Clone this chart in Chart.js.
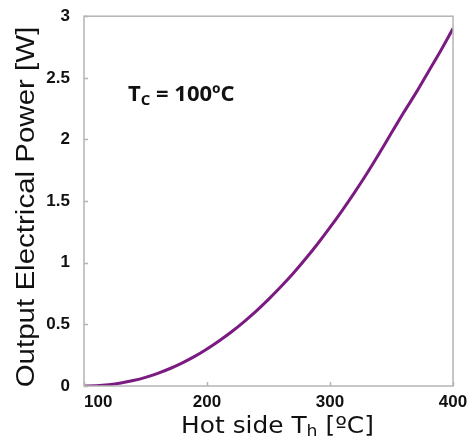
<!DOCTYPE html>
<html>
<head>
<meta charset="utf-8">
<script src="https://cdn.jsdelivr.net/npm/chart.js@4"></script>
<style>
  html, body { margin: 0; padding: 0; background: #fff; }
  #wrap { width: 471px; height: 444px; }
</style>
</head>
<body>
<div id="wrap"><canvas id="power-chart"></canvas></div>
<script>
// hot side temperature [ºC]
const hotTemps = [100, 110, 120, 130, 140, 150, 160, 170, 180, 190,
                  200, 210, 220, 230, 240, 250, 260, 270, 280, 290,
                  300, 310, 320, 330, 340, 350, 360, 370, 380, 390, 400]
// output electrical power [W]
const powerOut = [0, 0.002, 0.010, 0.024, 0.044, 0.070, 0.103, 0.142, 0.188, 0.240,
                  0.300, 0.367, 0.440, 0.521, 0.608, 0.703, 0.805, 0.913, 1.030, 1.154,
                  1.286, 1.425, 1.571, 1.724, 1.886, 2.054, 2.220, 2.380, 2.550, 2.720, 2.900]
const xTicks = [100, 200, 300, 400]
const yTicks = [0, 0.5, 1, 1.5, 2, 2.5, 3]

const points = hotTemps.map((t, i) => ({x: t, y: powerOut[i]}))
const tickFont = 'bold 17px "Liberation Sans", Arial, sans-serif'

// frame, inner tick marks, x labels, titles and the Tc note
const decorations = {
    id: 'decorations',
    afterDraw(chart) {
        const ctx = chart.ctx
        const a = chart.chartArea
        const xs = chart.scales.x
        const ys = chart.scales.y
        ctx.save()
        ctx.strokeStyle = '#b4b4b4'
        ctx.lineWidth = 1.5
        ctx.strokeRect(a.left, a.top, a.right - a.left, a.bottom - a.top)
        ctx.beginPath()
        xTicks.forEach(v => {
            const px = Math.round(xs.getPixelForValue(v)) + 0.5
            ctx.moveTo(px, a.bottom)
            ctx.lineTo(px, a.bottom - 4)
        })
        yTicks.forEach(v => {
            const py = Math.round(ys.getPixelForValue(v)) + 0.5
            ctx.moveTo(a.left, py)
            ctx.lineTo(a.left + 4, py)
        })
        ctx.stroke()

        ctx.fillStyle = '#111'
        ctx.textBaseline = 'middle'
        // x tick labels, first one kept inside the frame
        ctx.font = tickFont
        xTicks.forEach((v, i) => {
            ctx.textAlign = i === 0 ? 'left' : 'center'
            ctx.fillText(String(v), xs.getPixelForValue(v), a.bottom + 16)
        })

        // y title
        ctx.save()
        ctx.translate(27, 207)
        ctx.rotate(-Math.PI / 2)
        ctx.scale(1.18, 1)
        ctx.textAlign = 'center'
        ctx.font = '25px "Liberation Sans", Arial, sans-serif'
        ctx.fillText('Output Electrical Power [W]', 0, 0)
        ctx.restore()

        // x title with subscript h
        ctx.save()
        ctx.textAlign = 'left'
        const big = '23px "DejaVu Sans", sans-serif'
        const small = '16px "DejaVu Sans", sans-serif'
        const p1 = 'Hot side T', p2 = 'h', p3 = ' [ºC]'
        ctx.font = big
        const w1 = ctx.measureText(p1).width
        const w3 = ctx.measureText(p3).width
        ctx.font = small
        const w2 = ctx.measureText(p2).width
        const sx = 1.08
        ctx.translate(277.5 - sx * (w1 + w2 + w3) / 2, 427)
        ctx.scale(sx, 1)
        ctx.font = big
        ctx.fillText(p1, 0, 0)
        ctx.font = small
        ctx.fillText(p2, w1, 5)
        ctx.font = big
        ctx.fillText(p3, w1 + w2, 0)
        ctx.restore()

        // Tc note
        ctx.textAlign = 'left'
        const nb = 'bold 22px "Open Sans", "DejaVu Sans", sans-serif'
        const ns = 'bold 15px "Open Sans", "DejaVu Sans", sans-serif'
        let nx = 128
        const ny = 95
        ctx.font = nb
        ctx.fillText('T', nx, ny)
        nx += ctx.measureText('T').width
        ctx.font = ns
        ctx.fillText('C', nx, ny + 6)
        nx += ctx.measureText('C').width
        ctx.font = nb
        ctx.fillText(' = 100ºC', nx, ny)
        ctx.restore()
    }
}

new Chart(document.querySelector('#power-chart'), {
    type: 'line',
    data: {
        datasets: [{
            label: 'Output power',
            data: points,
            borderColor: '#7b1a80',
            borderWidth: 3,
            pointRadius: 0,
            cubicInterpolationMode: 'monotone',
            fill: false
        }]
    },
    options: {
        responsive: true,
        maintainAspectRatio: false,
        animation: false,
        layout: { padding: { top: 16, right: 18, left: 0, bottom: 0 } },
        plugins: {
            legend: { display: false },
            tooltip: { enabled: false }
        },
        scales: {
            x: {
                type: 'linear',
                min: 100,
                max: 400,
                afterBuildTicks: s => { s.ticks = xTicks.map(v => ({value: v})) },
                afterFit: s => { s.height = 58 },
                grid: { display: false },
                border: { display: false },
                ticks: { display: false }
            },
            y: {
                min: 0,
                max: 3,
                afterBuildTicks: s => { s.ticks = yTicks.map(v => ({value: v})) },
                afterFit: s => { s.width = 84 },
                grid: { display: false },
                border: { display: false },
                ticks: {
                    padding: 6,
                    color: '#111',
                    callback: v => String(v),
                    font: { family: '"Liberation Sans", Arial, sans-serif', size: 17, weight: 'bold' }
                }
            }
        }
    },
    plugins: [decorations]
})
</script>
</body>
</html>
